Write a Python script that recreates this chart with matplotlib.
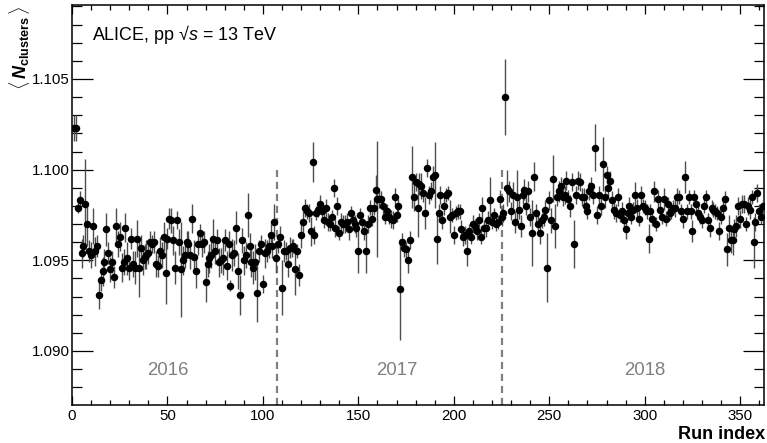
import numpy as np
import matplotlib
matplotlib.use("Agg")
import matplotlib.pyplot as plt

plt.rcParams['font.family'] = ['Liberation Sans', 'DejaVu Sans']
plt.rcParams['mathtext.fontset'] = 'custom'
plt.rcParams['mathtext.rm'] = 'Liberation Sans'
plt.rcParams['mathtext.it'] = 'Liberation Sans:italic'
plt.rcParams['mathtext.bf'] = 'Liberation Sans:bold'
try:
    plt.rcParams['mathtext.bfit'] = 'Liberation Sans:bold:italic'
    HAS_BFIT = True
except Exception:
    HAS_BFIT = False

# ---------------- data ----------------
years = ["2016", "2017", "2018"]
year_label_x = [50, 170, 300]
period_bounds = [107.5, 225.5]

vals_2016 = [
    1.1023, 1.1023, 1.0979, 1.0983, 1.0954, 1.0958, 1.0981, 1.0970, 1.0955, 1.0953,
    1.0969, 1.0955, 1.0958, 1.0931, 1.0939, 1.0944, 1.0949, 1.0967, 1.0954, 1.0945,
    1.0949, 1.0941, 1.0969, 1.0959, 1.0963, 1.0946, 1.0949, 1.0968, 1.0951, 1.0946,
    1.0962, 1.0948, 1.0946, 1.0962, 1.0946, 1.0957, 1.0950, 1.0952, 1.0953, 1.0954,
    1.0960, 1.0959, 1.0960, 1.0948, 1.0947, 1.0955, 1.0953, 1.0963, 1.0943, 1.0962,
    1.0973, 1.0972, 1.0961, 1.0946,
    1.0972, 1.0960, 1.0945, 1.0950, 1.0953, 1.0960, 1.0959, 1.0953, 1.0973, 1.0952,
    1.0944, 1.0959, 1.0965, 1.0959, 1.0960, 1.0938, 1.0948, 1.0951, 1.0953, 1.0962,
    1.0955, 1.0961, 1.0949, 1.0950, 1.0951, 1.0961, 1.0947, 1.0959, 1.0936, 1.0953,
    1.0954, 1.0968, 1.0944, 1.0931, 1.0961, 1.0950, 1.0953, 1.0975, 1.0958, 1.0949,
    1.0946, 1.0949, 1.0932, 1.0955, 1.0959, 1.0937, 1.0954, 1.0955, 1.0958, 1.0964,
    1.0958, 1.0971, 1.0951,
]
err_2016 = [  # in units of 1e-4
    7, 7, 3, 5, 8, 6, 25, 12, 6, 7,
    10, 8, 6, 8, 6, 8, 7, 9, 6, 7,
    6, 6, 10, 7, 8, 8, 7, 8, 9, 7,
    6, 7, 9, 10, 16, 7, 8, 7, 8, 6,
    6, 5, 6, 7, 6, 8, 7, 8, 17, 6,
    6, 7, 8, 9,
    5, 7, 26, 8, 7, 6, 7, 8, 8, 9,
    9, 6, 5, 7, 6, 11, 7, 8, 7, 11,
    7, 6, 8, 7, 9, 6, 8, 7, 3, 9,
    7, 9, 10, 11, 7, 8, 7, 12, 7, 8,
    9, 10, 16, 6, 5, 5, 8, 6, 7, 6,
    7, 10, 8,
]

vals_2017 = [
    1.0959, 1.0963, 1.0935, 1.0955, 1.0955, 1.0948, 1.0957,
    1.0957, 1.0958, 1.0945, 1.0955, 1.0942, 1.0964, 1.0971, 1.0979, 1.0977, 1.0976,
    1.0966, 1.1004, 1.0964, 1.0976, 1.0978, 1.0981, 1.0977, 1.0972, 1.0979, 1.0971,
    1.0970, 1.0974, 1.0990, 1.0968, 1.0980, 1.0965, 1.0971, 1.0970, 1.0970, 1.0971,
    1.0967, 1.0976, 1.0972, 1.0970, 1.0968, 1.0955, 1.0975, 1.0971, 1.0966, 1.0955,
    1.0970, 1.0979, 1.0973, 1.0979, 1.0989, 1.0984, 1.0984, 1.0984, 1.0980, 1.0974,
    1.0977, 1.0974, 1.0973, 1.0972, 1.0985, 1.0975, 1.0980, 1.0934, 1.0960, 1.0957,
    1.0956, 1.0950, 1.0961, 1.0996, 1.0985, 1.0993, 1.0979, 1.0992, 1.0991, 1.0987,
    1.0976, 1.1001, 1.0986, 1.0988, 1.0996, 1.0997, 1.0962, 1.0976, 1.0986, 1.0972,
    1.0980, 1.0986, 1.0987, 1.0974, 1.0975, 1.0964, 1.0976, 1.0977, 1.0977, 1.0967,
    1.0963, 1.0964, 1.0955, 1.0966, 1.0963, 1.0970, 1.0969, 1.0966, 1.0972, 1.0963,
    1.0979, 1.0968, 1.0968, 1.0972, 1.0983, 1.0971, 1.0975, 1.0970, 1.0971, 1.0984,
    1.0974,
]
err_2017 = [
    5, 6, 15, 6, 5, 7, 6,
    5, 4, 14, 4, 6, 7, 6, 5, 4, 5,
    8, 11, 5, 4, 4, 5, 5, 4, 5, 5,
    4, 4, 5, 5, 5, 4, 5, 5, 5, 5,
    6, 4, 5, 5, 5, 12, 4, 5, 5, 12,
    5, 4, 4, 4, 8, 32, 5, 4, 5, 4,
    4, 4, 5, 5, 5, 4, 4, 28, 5, 5,
    4, 7, 5, 17, 8, 5, 16, 6, 7, 5,
    9, 5, 5, 5, 6, 18, 14, 5, 5, 5,
    5, 4, 4, 9, 4, 5, 4, 4, 4, 5,
    5, 5, 8, 4, 4, 5, 4, 5, 4, 4,
    6, 4, 5, 5, 13, 4, 4, 4, 4, 5,
    5,
]

vals_2018 = [
    1.0976, 1.1040, 1.0990, 1.0988, 1.0977, 1.0986, 1.0971, 1.0985, 1.0978, 1.0969,
    1.0986, 1.0989,
    1.0980, 1.0988, 1.0974, 1.0965, 1.0996, 1.0976, 1.0970, 1.0965, 1.0972, 1.0974,
    1.0978, 1.0946, 1.0983, 1.0972, 1.0995, 1.0969, 1.0985, 1.0988, 1.0991, 1.0985,
    1.0986, 1.0994, 1.0984, 1.0980, 1.0993, 1.0959, 1.0986, 1.0994, 1.0993, 1.0985,
    1.0985, 1.0980, 1.0977, 1.0988, 1.0991, 1.0986, 1.1012, 1.0975, 1.0986, 1.0980,
    1.1003, 1.0985, 1.0997, 1.0990, 1.0994, 1.0983, 1.0978, 1.0976, 1.0985, 1.0975,
    1.0977, 1.0972, 1.0967, 1.0976, 1.0980, 1.0974, 1.0978, 1.0986, 1.0979, 1.0973,
    1.0986,
    1.0980, 1.0979, 1.0977, 1.0962, 1.0977, 1.0973, 1.0988, 1.0970, 1.0984, 1.0978,
    1.0974, 1.0984, 1.0973, 1.0981, 1.0976, 1.0977, 1.0979, 1.0979, 1.0985, 1.0985,
    1.0977, 1.0973, 1.0996, 1.0977, 1.0985, 1.0977, 1.0966, 1.0985, 1.0981, 1.0976,
    1.0974, 1.0972, 1.0980, 1.0985, 1.0972, 1.0968, 1.0979, 1.0978, 1.0977, 1.0976,
    1.0966, 1.0974, 1.0979, 1.0984, 1.0956, 1.0968, 1.0961, 1.0961, 1.0967, 1.0969,
    1.0980, 1.0973, 1.0981, 1.0981, 1.0970, 1.0980, 1.0978, 1.0985, 1.0960, 1.0971,
    1.0987, 1.0977, 1.0974, 1.0980,
]
err_2018 = [
    5, 21, 10, 6, 5, 7, 6, 15, 5, 6,
    5, 6,
    5, 6, 5, 18, 8, 5, 5, 6, 4, 5,
    5, 19, 5, 7, 13, 12, 5, 6, 5, 5,
    5, 5, 5, 6, 5, 13, 5, 5, 5, 5,
    5, 5, 4, 5, 5, 5, 13, 5, 5, 5,
    15, 6, 5, 5, 5, 5, 5, 5, 5, 4,
    5, 4, 5, 4, 5, 4, 4, 7, 5, 4,
    5,
    4, 4, 4, 8, 4, 4, 6, 4, 5, 5,
    4, 6, 4, 4, 4, 4, 4, 5, 5, 4,
    4, 5, 9, 4, 4, 4, 6, 4, 4, 4,
    4, 4, 4, 4, 4, 5, 4, 4, 4, 4,
    5, 4, 4, 4, 9, 7, 7, 8, 6, 6,
    5, 5, 5, 5, 4, 5, 5, 4, 14, 5,
    5, 4, 4, 4,
]

values = np.array(vals_2016 + vals_2017 + vals_2018)
errors = np.array(err_2016 + err_2017 + err_2018) * 1e-4
run_index = np.arange(1, len(values) + 1)

# ---------------- figure ----------------
W, H = 767, 443
fig = plt.figure(figsize=(W / 100, H / 100), dpi=100)
ax = fig.add_axes([72 / W, 1 - 405 / H, (764 - 72) / W, 400 / H])

ax.errorbar(run_index, values, yerr=errors, fmt='o', color='black',
            ecolor='0.3', elinewidth=1.0, capsize=1.3, capthick=0.8,
            markersize=5.4, markeredgewidth=0, zorder=3)

ylo, yhi = 1.08702, 1.10908
for b in period_bounds:
    ax.plot([b, b], [ylo, 1.100], ls=(0, (3.2, 2.2)), color='#808080', lw=1.6, zorder=2)

for lab, xl in zip(years, year_label_x):
    ax.text(xl, 1.0889, lab, color='#808080', fontsize=13.4, ha='center', va='center')

ax.set_xlim(0, 362.5)
ax.set_ylim(ylo, yhi)
ax.set_xticks(np.arange(0, 351, 50))
ax.set_xticks(np.arange(0, 363, 10), minor=True)
ax.set_yticks([1.090, 1.095, 1.100, 1.105])
ax.set_yticks(np.arange(1.088, 1.1091, 0.001), minor=True)
ax.set_yticklabels(['1.090', '1.095', '1.100', '1.105'])

ax.tick_params(axis='both', which='both', direction='in', top=True, right=True,
               labelsize=10.8, colors='black')
ax.tick_params(axis='x', which='major', length=6.5, width=0.9, pad=3)
ax.tick_params(axis='x', which='minor', length=3.3, width=0.9)
ax.tick_params(axis='y', which='major', length=15, width=0.9, pad=1.5)
ax.tick_params(axis='y', which='minor', length=7.5, width=0.9)
for s in ax.spines.values():
    s.set_linewidth(1.1)
    s.set_color('black')

ax.text(0.029, 0.912, r'ALICE, pp √$s$ = 13 TeV', transform=ax.transAxes,
        fontsize=12.9, ha='left', va='baseline')

if HAS_BFIT:
    ylab = r'$\langle\,\mathbfit{N}_{\mathbf{clusters}}\,\rangle$'
else:
    ylab = r'$\langle\,\mathbf{N}_{\mathbf{clusters}}\,\rangle$'
fig.text(19 / W, 1 - 6 / H, ylab, rotation=90, ha='center', va='top', fontsize=13)

fig.text(765 / W, 1 - 439 / H, 'Run index', fontsize=13, fontweight='bold',
         ha='right', va='baseline')

fig.savefig('out.png', dpi=100)
